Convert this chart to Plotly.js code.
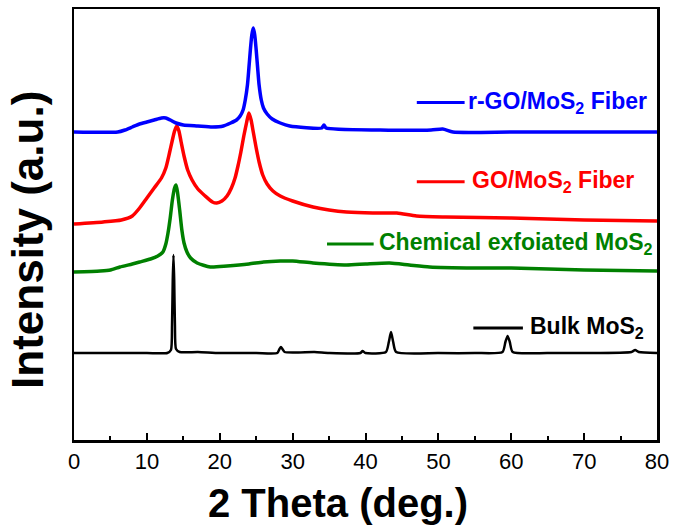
<!DOCTYPE html>
<html>
<head>
<meta charset="utf-8">
<script src="https://cdn.plot.ly/plotly-3.0.1.min.js"></script>
<style>
  html, body { margin: 0; padding: 0; background: #ffffff; }
  #chart { width: 674px; height: 531px; }
</style>
</head>
<body>
<div id="chart"></div>
<script>
// Values (intensity in arbitrary, stacked units)
const bulkX = [0, 5, 10, 12.8, 13.3, 13.45, 13.55, 13.65, 13.75, 13.85, 14.0, 14.5, 17, 20, 25, 27.9, 28.2, 28.4, 28.6, 28.9, 33, 35, 39.3, 39.6, 40, 42.8, 43.2, 43.5, 43.8, 44.2, 50, 55, 58.8, 59.2, 59.5, 59.8, 60.2, 65, 70, 76.5, 77, 77.5, 80];
const bulkY = [87, 87, 87, 87, 90, 115, 160, 185, 160, 115, 91, 88, 88, 87, 87, 87, 91, 93, 91, 88, 88, 87, 87, 89, 87, 88, 98, 108, 98, 88, 87, 87, 88, 98, 104, 98, 88, 87, 87, 88, 90, 88, 87];

const chemX = [0, 3.6, 5, 6.3, 8, 9, 10.5, 11.5, 12.2, 12.6, 12.9, 13.2, 13.5, 13.8, 14.0, 14.2, 14.5, 14.8, 15.1, 15.5, 16, 16.9, 18.7, 21, 24, 26, 28.3, 30, 32.8, 37.4, 40, 43.3, 46, 48.8, 55, 60, 70, 80];
const chemY = [168, 169, 170, 173, 176, 178, 181, 184, 188, 196, 207, 222, 240, 252, 255, 248, 230, 210, 197, 188, 182, 177, 173, 174, 176, 178, 179, 179, 177, 175, 176, 177, 175, 173, 172, 172, 170, 169];

const goX = [0, 4, 6.5, 8, 9, 10, 11, 12, 12.6, 13.1, 13.5, 13.8, 14.1, 14.4, 14.7, 15.1, 15.6, 16.2, 17, 18, 19, 19.6, 20.3, 21, 21.6, 22.1, 22.5, 22.9, 23.3, 23.7, 24.0, 24.3, 24.6, 25.0, 25.4, 25.9, 26.5, 27.3, 28.3, 30, 32.8, 35, 37.4, 41, 44.3, 47, 51, 60, 70, 80];
const goY = [216, 218, 220, 224, 232, 242, 252, 262, 272, 287, 300, 309, 314, 309, 298, 284, 270, 260, 251, 244, 238, 237, 239, 244, 252, 262, 274, 288, 304, 318, 327, 320, 308, 292, 278, 265, 256, 249, 244, 239, 233, 230, 228, 227, 227, 224, 223, 222, 220, 219];

const rgoX = [0, 6, 7, 8, 9, 10, 11, 12, 12.6, 13.2, 14, 15, 17, 19, 20.5, 21.5, 22.3, 22.8, 23.2, 23.5, 23.8, 24.0, 24.2, 24.4, 24.6, 24.8, 25.0, 25.2, 25.4, 25.7, 26.0, 26.5, 27.2, 28.3, 29.6, 34.0, 34.3, 34.6, 42, 49, 50.6, 52, 60, 70, 80];
const rgoY = [308, 308, 310, 313, 316, 318, 320, 322, 322, 320, 317, 315, 314, 313, 314, 317, 320, 324, 330, 340, 355, 372, 390, 405, 412, 405, 390, 372, 355, 340, 332, 326, 321, 317, 314, 312, 315, 312, 310, 310, 311, 308, 308, 308, 308];

const seriesNames = ["Bulk MoS<sub>2</sub>", "Chemical exfoiated MoS<sub>2</sub>", "GO/MoS<sub>2</sub> Fiber", "r-GO/MoS<sub>2</sub> Fiber"];
const seriesColors = ["#000000", "#008000", "#ff0000", "#0000ff"];
const xTickVals = [0, 10, 20, 30, 40, 50, 60, 70, 80];
const xTickText = ["0", "10", "20", "30", "40", "50", "60", "70", "80"];
const xTitle = "2 Theta (deg.)";
const yTitle = "Intensity (a.u.)";

const xs = [bulkX, chemX, goX, rgoX];
const ys = [bulkY, chemY, goY, rgoY];
const widths = [2.5, 3.5, 3.5, 3.5];

const traces = xs.map((x, i) => ({
  x: x, y: ys[i], type: 'scatter', mode: 'lines',
  name: seriesNames[i],
  line: { color: seriesColors[i], width: widths[i], shape: 'spline', smoothing: 0.6 },
  hoverinfo: 'skip'
}));

// legend labels placed next to their curves (paper coordinates)
const legendPos = [
  { x0: 0.685, x1: 0.770, y: 0.260, tx: 0.778 },
  { x0: 0.434, x1: 0.514, y: 0.455, tx: 0.520 },
  { x0: 0.588, x1: 0.670, y: 0.599, tx: 0.679 },
  { x0: 0.588, x1: 0.670, y: 0.783, tx: 0.673 }
];

const shapes = legendPos.map((p, i) => ({
  type: 'line', xref: 'paper', yref: 'paper',
  x0: p.x0, x1: p.x1, y0: p.y, y1: p.y,
  line: { color: seriesColors[i], width: 3 }
}));

const FONT = 'Liberation Sans, Arial, sans-serif';

const annotations = legendPos.map((p, i) => ({
  xref: 'paper', yref: 'paper', x: p.tx, y: p.y,
  xanchor: 'left', yanchor: 'middle', showarrow: false,
  text: seriesNames[i],
  font: { family: FONT, size: 23, weight: 'bold', color: seriesColors[i] }
}));

// axis titles (placed as in the reference, which is centred on the figure)
annotations.push({
  xref: 'paper', yref: 'paper', x: 0.453, y: -0.146,
  xanchor: 'center', yanchor: 'middle', showarrow: false,
  text: xTitle, font: { family: FONT, size: 40, weight: 'bold', color: '#000000' }
});
annotations.push({
  xref: 'paper', yref: 'paper', x: -0.080, y: 0.465,
  xanchor: 'center', yanchor: 'middle', showarrow: false, textangle: -90,
  text: yTitle, font: { family: FONT, size: 44, weight: 'bold', color: '#000000' }
});

const layout = {
  width: 674, height: 531,
  margin: { l: 74, r: 17, t: 9, b: 91 },
  paper_bgcolor: '#ffffff', plot_bgcolor: '#ffffff',
  showlegend: false,
  font: { family: FONT, color: '#000000' },
  xaxis: {
    range: [0, 80], tickmode: 'array', tickvals: xTickVals, ticktext: xTickText,
    ticks: 'inside', ticklen: 7, tickwidth: 2, tickcolor: '#000000',
    minor: { dtick: 5, ticks: 'inside', ticklen: 4, tickwidth: 2, tickcolor: '#000000' },
    showline: true, linecolor: '#000000', linewidth: 2.5, mirror: true,
    showgrid: false, zeroline: false,
    tickfont: { size: 22, color: '#000000' }
  },
  yaxis: {
    range: [0, 431], showticklabels: false, ticks: '',
    showline: true, linecolor: '#000000', linewidth: 2.5, mirror: true,
    showgrid: false, zeroline: false
  },
  shapes: shapes,
  annotations: annotations
};

Plotly.newPlot('chart', traces, layout, { displayModeBar: false, staticPlot: true });
</script>
</body>
</html>
